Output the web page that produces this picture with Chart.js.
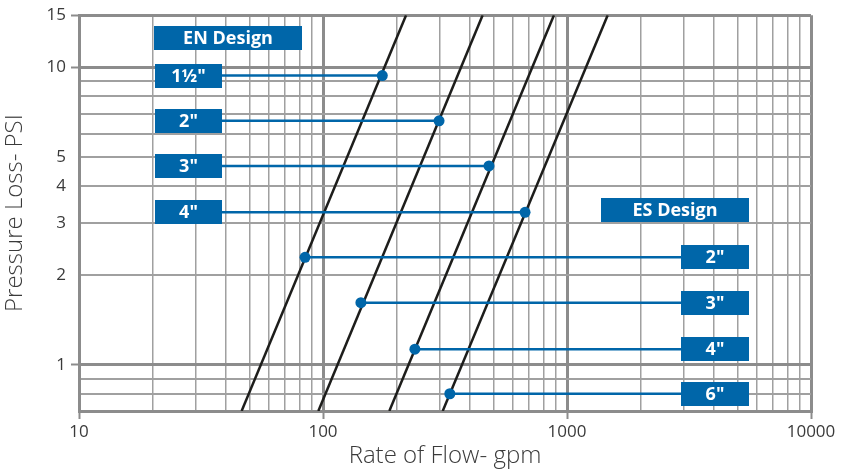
<!DOCTYPE html>
<html>
<head>
<meta charset="utf-8">
<script src="https://cdn.jsdelivr.net/npm/chart.js@4.4.1/dist/chart.umd.min.js"></script>
<style>
  html, body {
    margin: 0;
    padding: 0;
    background: #ffffff;
  }
  #wrap {
    width: 842px;
    height: 472px;
  }
</style>
</head>
<body>
<div id="wrap">
  <canvas id="chart" width="842" height="472"></canvas>
</div>
<script>

// flow (gpm) where each pressure-loss line crosses the bottom (0.7 psi) and top (15 psi)
const lineFlowLow = [46.4, 95.7, 187, 309.5]

const lineFlowHigh = [219, 451, 884, 1468]

const linePressureLow = 0.7

const linePressureHigh = 15

// EN design points
const enSizes = ['1½"', '2"', '3"', '4"']

const enFlow = [175, 299, 479, 673]

const enPressure = [9.4, 6.62, 4.67, 3.26]

// ES design points
const esSizes = ['2"', '3"', '4"', '6"']

const esFlow = [84.4, 143, 238, 331]

const esPressure = [2.3, 1.62, 1.13, 0.8]

// axis ticks
const xTickValues = [
  10, 20, 30, 40, 50, 60, 70, 80, 90,
  100, 200, 300, 400, 500, 600, 700, 800, 900,
  1000, 2000, 3000, 4000, 5000, 6000, 7000, 8000, 9000,
  10000
]

const xTickLabels = [10, 100, 1000, 10000]

const yTickValues = [0.7, 0.8, 0.9, 1, 2, 3, 4, 5, 6, 7, 8, 9, 10, 15]

const yTickLabels = [1, 2, 3, 4, 5, 10, 15]


const BLUE = '#0066a9'

const GRID = '#a0a0a0'

const GRID_MAJOR = '#8c8c8c'

const FONT = '"Open Sans", "DejaVu Sans", sans-serif'

// label boxes, x extent in gpm so they follow the log axis
const EN_BOX = { from: 20.5, to: 38.5 }

const ES_BOX = { from: 2932, to: 5570 }

const titleBoxes = [
  { text: 'EN Design', from: 20.3, to: 82, y: 12.6 },
  { text: 'ES Design', from: 1378, to: 5570, y: 3.31 }
]


const datasets = []

lineFlowLow.forEach((low, i) => {

  datasets.push({
    data: [
      { x: low, y: linePressureLow },
      { x: lineFlowHigh[i], y: linePressureHigh }
    ],
    borderColor: '#1d1d1b',
    borderWidth: 2.5,
    pointRadius: 0,
    order: 2
  })

})

enSizes.forEach((size, i) => {

  datasets.push({
    data: [
      { x: EN_BOX.to, y: enPressure[i] },
      { x: enFlow[i], y: enPressure[i] }
    ],
    borderColor: BLUE,
    backgroundColor: BLUE,
    borderWidth: 2.5,
    pointRadius: ctx => ctx.dataIndex === 1 ? 5.5 : 0,
    pointBorderWidth: 0,
    order: 1
  })

})

esSizes.forEach((size, i) => {

  datasets.push({
    data: [
      { x: esFlow[i], y: esPressure[i] },
      { x: ES_BOX.from, y: esPressure[i] }
    ],
    borderColor: BLUE,
    backgroundColor: BLUE,
    borderWidth: 2.5,
    pointRadius: ctx => ctx.dataIndex === 0 ? 5.5 : 0,
    pointBorderWidth: 0,
    order: 1
  })

})


function drawBox(chart, from, to, y, text) {

  const ctx = chart.ctx

  const xs = chart.scales.x

  const ys = chart.scales.y

  const x0 = Math.round(xs.getPixelForValue(from))

  const x1 = Math.round(xs.getPixelForValue(to))

  const cy = ys.getPixelForValue(y)

  const h = 24

  ctx.fillStyle = BLUE

  ctx.fillRect(x0, Math.round(cy - h / 2), x1 - x0, h)

  ctx.fillStyle = '#ffffff'

  ctx.font = 'bold 18px ' + FONT

  ctx.textAlign = 'center'

  ctx.textBaseline = 'middle'

  ctx.fillText(text, (x0 + x1) / 2, cy + 1)

}

const labelBoxes = {

  id: 'labelBoxes',

  afterDatasetsDraw(chart) {

    const ctx = chart.ctx

    ctx.save()

    titleBoxes.forEach(b => drawBox(chart, b.from, b.to, b.y, b.text))

    enSizes.forEach((size, i) =>
      drawBox(chart, EN_BOX.from, EN_BOX.to, enPressure[i], size)
    )

    esSizes.forEach((size, i) =>
      drawBox(chart, ES_BOX.from, ES_BOX.to, esPressure[i], size)
    )

    ctx.restore()

  }

}


new Chart(
  document.getElementById('chart'),
  {

    type: 'line',

    data: {
      datasets
    },

    plugins: [labelBoxes],

    options: {

      responsive: false,

      animation: false,

      layout: {
        padding: { left: 0, right: 31, top: 15, bottom: 0 }
      },

      plugins: {
        legend: { display: false },
        tooltip: { enabled: false }
      },

      scales: {

        x: {

          type: 'logarithmic',

          min: 10,

          max: 10000,

          afterBuildTicks: scale => {
            scale.ticks = xTickValues.map(v => ({ value: v }))
          },

          afterFit: scale => {
            scale.height = 61
          },

          ticks: {
            autoSkip: false,
            maxRotation: 0,
            padding: 3,
            color: '#3a3a3a',
            font: { family: FONT, size: 17 },
            callback: value => xTickLabels.includes(value) ? String(value) : ''
          },

          grid: {
            color: ctx => xTickLabels.includes(ctx.tick && ctx.tick.value) ? GRID_MAJOR : GRID,
            lineWidth: ctx => xTickLabels.includes(ctx.tick && ctx.tick.value) ? 3 : 1.5,
            tickColor: ctx => xTickLabels.includes(ctx.tick && ctx.tick.value) ? GRID_MAJOR : 'rgba(0,0,0,0)',
            tickLength: 8,
            tickWidth: 2
          },

          border: {
            color: GRID_MAJOR,
            width: 3
          },

          title: {
            display: true,
            text: 'Rate of Flow- gpm',
            color: '#3a3a3a',
            font: { family: FONT, size: 24, weight: '300' },
            padding: { top: 0, bottom: 1 }
          }

        },

        y: {

          type: 'logarithmic',

          min: 0.7,

          max: 15,

          afterBuildTicks: scale => {
            scale.ticks = yTickValues.map(v => ({ value: v }))
          },

          afterFit: scale => {
            scale.width = 79
          },

          ticks: {
            autoSkip: false,
            padding: 5,
            color: '#3a3a3a',
            font: { family: FONT, size: 17 },
            callback: value => yTickLabels.includes(value) ? String(value) : ''
          },

          grid: {
            color: ctx => [1, 10, 15].includes(ctx.tick && ctx.tick.value) ? GRID_MAJOR : GRID,
            lineWidth: ctx => [1, 10, 15].includes(ctx.tick && ctx.tick.value) ? 3 : 2,
            tickColor: ctx => [1, 10, 15].includes(ctx.tick && ctx.tick.value) ? GRID_MAJOR : 'rgba(0,0,0,0)',
            tickLength: 8,
            tickWidth: 2
          },

          border: {
            color: GRID_MAJOR,
            width: 3
          },

          title: {
            display: true,
            text: 'Pressure Loss- PSI',
            color: '#3a3a3a',
            font: { family: FONT, size: 24, weight: '300' },
            padding: { top: 1, bottom: 0 }
          }

        }

      }

    }

  }
)

</script>
</body>
</html>
